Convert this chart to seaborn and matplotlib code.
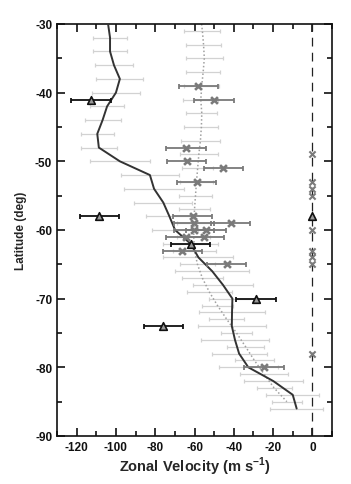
import numpy as np
import pandas as pd
import seaborn as sns
import matplotlib.pyplot as plt
from matplotlib.ticker import MultipleLocator

# solid profile (even latitudes)
solid_lat = [-30, -32, -34, -36, -38, -40, -42, -44, -46, -48, -50, -52, -54, -56, -58,
             -60, -62, -64, -66, -68, -70, -72, -74, -76, -78, -80, -82, -84, -86]
solid_u = [-104, -103, -103, -101, -98, -100, -104.5, -106.8, -109.5, -108.7, -98, -82.7,
           -80.6, -75.9, -72.8, -69.9, -62, -58, -51, -45.5, -40.7, -40.9, -41, -39.4,
           -37.3, -32.6, -19.9, -10, -8]
solid_err = [0, 8.8, 8.7, 9.5, 11.9, 12.3, 8.5, 9.2, 8.3, 9.3, 15.3, 14.9, 15.5, 14.7, 12,
             11.6, 14, 17.8, 18.7, 15.3, 12, 16.6, 17.4, 17.5, 14, 15, 14.9, 13.6, 13.4]

# dotted profile (odd latitudes)
dot_lat = [-30, -31, -33, -35, -37, -39, -41, -43, -45, -47, -49, -51, -53, -55, -57,
           -59, -61, -63, -65, -67, -69, -71, -73, -75, -77, -79, -81, -83, -85]
dot_u = [-56.4, -56, -55.4, -55, -55.6, -56.3, -56.8, -56.3, -56.5, -57, -57.8, -58.4,
         -59, -59.5, -60, -60.3, -60.4, -60, -58.5, -56, -52.5, -48.3, -43.6, -38.6,
         -34, -29.5, -24.5, -19.5, -13]
dot_err = [0, 9.2, 8.9, 9.3, 8.5, 9, 9, 7.8, 8.7, 10, 9.8, 8, 8.5, 8.2, 8, 8.5, 8.5,
           11, 9, 10.4, 11.5, 7.9, 8.9, 8, 9.6, 9.8, 12.3, 8.9, 7.6]

# individual cloud tracks (grey crosses)
x_lat = [-39, -41, -48, -50, -51, -53, -58, -59, -59, -60, -60, -61, -61, -63, -65, -80]
x_u = [-58.1, -50.1, -64.3, -64, -45.3, -58.9, -60.9, -60.3, -41.6, -60.3, -54.2,
       -64.3, -55.2, -66.2, -43.6, -24.6]
x_err = [10] * 16

# triangles
tri_lat = [-41, -58, -62, -70, -74]
tri_u = [-112.9, -108.5, -62, -28.7, -75.9]
tri_err = [10.2, 10, 10, 10.2, 10]

# points on the zero line
zero_x_lat = [-49, -53, -54, -55, -60, -63, -64, -65, -78]
zero_tri_lat = [-58]

sns.set_style('ticks')
plt.rcParams['font.family'] = ['Liberation Sans', 'DejaVu Sans']
plt.rcParams['font.weight'] = 'bold'
plt.rcParams['axes.unicode_minus'] = False
plt.rcParams['mathtext.fontset'] = 'custom'
plt.rcParams['mathtext.bf'] = 'Liberation Sans:bold'
plt.rcParams['mathtext.rm'] = 'Liberation Sans:bold'

fig = plt.figure(figsize=(3.51, 4.85), dpi=100)
ax = fig.add_axes([0.1624, 0.099, 0.7835, 0.8495])

# light error bars of the two profiles
ax.errorbar(solid_u[1:], solid_lat[1:], xerr=solid_err[1:], fmt='none', ecolor='#d2d2d2',
            elinewidth=0.9, capsize=1.5, capthick=0.9, zorder=1)
ax.errorbar(dot_u[1:], dot_lat[1:], xerr=dot_err[1:], fmt='none', ecolor='#d2d2d2',
            elinewidth=0.9, capsize=1.5, capthick=0.9, zorder=1)

prof_s = pd.DataFrame({'u': solid_u, 'lat': solid_lat})
prof_d = pd.DataFrame({'u': dot_u, 'lat': dot_lat})
sns.lineplot(data=prof_d, x='u', y='lat', sort=False, estimator=None, color='#a0a0a0',
             linestyle=(0, (1, 1.5)), linewidth=1.1, ax=ax, zorder=2)
sns.lineplot(data=prof_s, x='u', y='lat', sort=False, estimator=None, color='#333333',
             linewidth=1.4, ax=ax, zorder=3)

ax.axvline(0, color='#222222', linestyle=(0, (7, 5)), linewidth=0.9, zorder=1)

# grey crosses
ax.errorbar(x_u, x_lat, xerr=x_err, fmt='none', ecolor='#7a7a7a', elinewidth=1.3,
            capsize=1.8, capthick=1.3, zorder=4)
pts = pd.DataFrame({'u': x_u, 'lat': x_lat})
sns.scatterplot(data=pts, x='u', y='lat', marker='x', color='#7a7a7a', s=24,
                linewidth=1.9, ax=ax, zorder=5)
zx = pd.DataFrame({'u': [0] * len(zero_x_lat), 'lat': zero_x_lat})
sns.scatterplot(data=zx, x='u', y='lat', marker='x', color='#7a7a7a', s=20,
                linewidth=1.5, ax=ax, zorder=5)

# triangles
ax.errorbar(tri_u, tri_lat, xerr=tri_err, fmt='none', ecolor='#111111', elinewidth=1.3,
            capsize=1.8, capthick=1.3, zorder=6)
tr = pd.DataFrame({'u': tri_u + [0] * len(zero_tri_lat), 'lat': tri_lat + zero_tri_lat})
sns.scatterplot(data=tr, x='u', y='lat', marker='^', facecolor='#9a9a9a',
                edgecolor='#111111', s=30, linewidth=1.2, ax=ax, zorder=7)

ax.set_xlim(-130, 10)
ax.set_ylim(-90, -30)
ax.xaxis.set_major_locator(MultipleLocator(20))
ax.xaxis.set_minor_locator(MultipleLocator(10))
ax.yaxis.set_major_locator(MultipleLocator(10))
ax.yaxis.set_minor_locator(MultipleLocator(5))
ax.tick_params(which='both', direction='in', top=True, right=True, width=1.2,
               labelsize=8.5, colors='#111111')
ax.tick_params(which='major', length=6)
ax.tick_params(which='minor', length=3.5)
for lbl in ax.get_xticklabels() + ax.get_yticklabels():
    lbl.set_fontweight('bold')
for sp in ax.spines.values():
    sp.set_linewidth(1.2)
    sp.set_color('#111111')

ax.set_xlabel(r'Zonal Velocity (m s$^{\mathbf{-1}}$)', fontsize=10.5, fontweight='bold',
              labelpad=1)
ax.set_ylabel('Latitude (deg)', fontsize=8.5, fontweight='bold', labelpad=6)

fig.savefig('out.png', dpi=100)
